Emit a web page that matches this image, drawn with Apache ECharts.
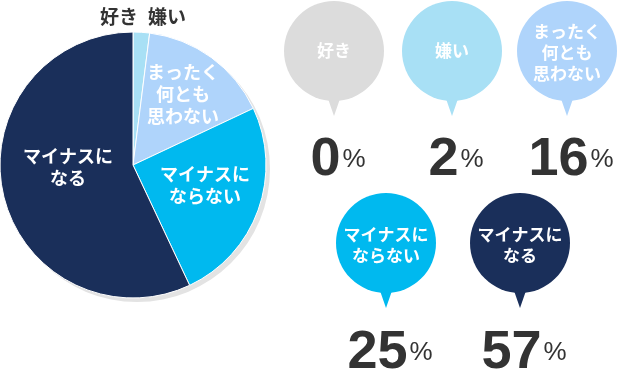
<!DOCTYPE html>
<html><head><meta charset="utf-8">
<script src="https://cdn.jsdelivr.net/npm/echarts@6/dist/echarts.min.js"></script>
<style>html,body{margin:0;padding:0;background:#fff}#c{width:617px;height:371px}</style>
</head><body><div id="c"></div>
<script>
// ---- data ----
const categories = ['好き', '嫌い', 'まったく\n何とも\n思わない', 'マイナスに\nならない', 'マイナスに\nなる'];
const values = [0, 2, 16, 25, 57];
const percentUnit = '%';

// ---- styles / layout ----
const sliceColors = ['#dcdcdc', '#a8e0f5', '#afd4fb', '#00b9ef', '#1a2f5a'];
const bubbleColors = ['#dcdcdc', '#a8e0f5', '#afd4fb', '#00b9ef', '#1a2f5a'];
const outsideLabel = [true, true, false, false, false];
const labelPos = [[119, 17], [167, 17], [183, 94], [205, 185], [68, 167]];
const bubbleCenters = [[334, 51], [452, 51], [567, 51], [386, 243], [520, 243]];
const bubbleR = 50;
const PIE_C = [133, 165], PIE_R = 133;
const jpFont = '"Noto Sans CJK JP", sans-serif';
const numFont = '"Liberation Sans", Arial, sans-serif';

const chart = echarts.init(document.getElementById('c'), null, {renderer: 'canvas'});

const pieData = categories.map((name, i) => ({
  name, value: values[i],
  itemStyle: {color: sliceColors[i]},
  label: outsideLabel[i] ? {color: '#333', fontSize: 19, fontWeight: 'bold', fontFamily: jpFont} : {}
}));

const graphics = [];
categories.forEach((name, i) => {
  const [cx, cy] = bubbleCenters[i];
  graphics.push({
    type: 'group', children: [
      {type: 'polygon', shape: {points: [[cx - 8, cy + bubbleR - 8], [cx + 8, cy + bubbleR - 8], [cx, cy + bubbleR + 15]]},
        style: {fill: bubbleColors[i]}},
      {type: 'circle', shape: {cx, cy, r: bubbleR}, style: {fill: bubbleColors[i]}},
      {type: 'text', x: cx, y: cy + (name.split('\n').length > 1 ? 2 : 0),
        style: {text: name, fill: '#fff', font: 'bold 17px ' + jpFont, lineHeight: 21,
          align: 'center', verticalAlign: 'middle'}},
      {type: 'text', x: cx + 4, y: cy + bubbleR + 86 + (i >= 3 ? 1 : 0),
        style: {text: '{n|' + values[i] + '}{p|' + percentUnit + '}', align: 'center', verticalAlign: 'bottom',
          rich: {
            n: {fontSize: 54, fontFamily: numFont, fontWeight: 'bold', fill: '#333', lineHeight: 54, padding: [0, 2, 0, 0]},
            p: {fontSize: 26, fontFamily: numFont, fill: '#333', lineHeight: 54}
          }}}
    ]
  });
});

chart.setOption({
  animation: false,
  series: [
    {
      type: 'pie', silent: true, center: [PIE_C[0] + 4, PIE_C[1] + 4], radius: PIE_R,
      data: [{value: 1, itemStyle: {color: '#e3e3e3'}}],
      label: {show: false}, labelLine: {show: false}, z: 1
    },
    {
      type: 'pie', center: PIE_C, radius: PIE_R, startAngle: 90, clockwise: true,
      data: pieData, z: 2,
      itemStyle: {borderColor: '#fff', borderWidth: 1},
      label: {show: true, position: 'inside', color: '#fff', fontSize: 18, fontWeight: 'bold',
        fontFamily: jpFont, lineHeight: 22, formatter: '{b}'},
      labelLine: {show: false},
      labelLayout: function (p) {
        const pos = labelPos[p.dataIndex];
        return {x: pos[0], y: pos[1], align: 'center', verticalAlign: 'middle'};
      }
    }
  ],
  graphic: graphics
});
</script></body></html>
